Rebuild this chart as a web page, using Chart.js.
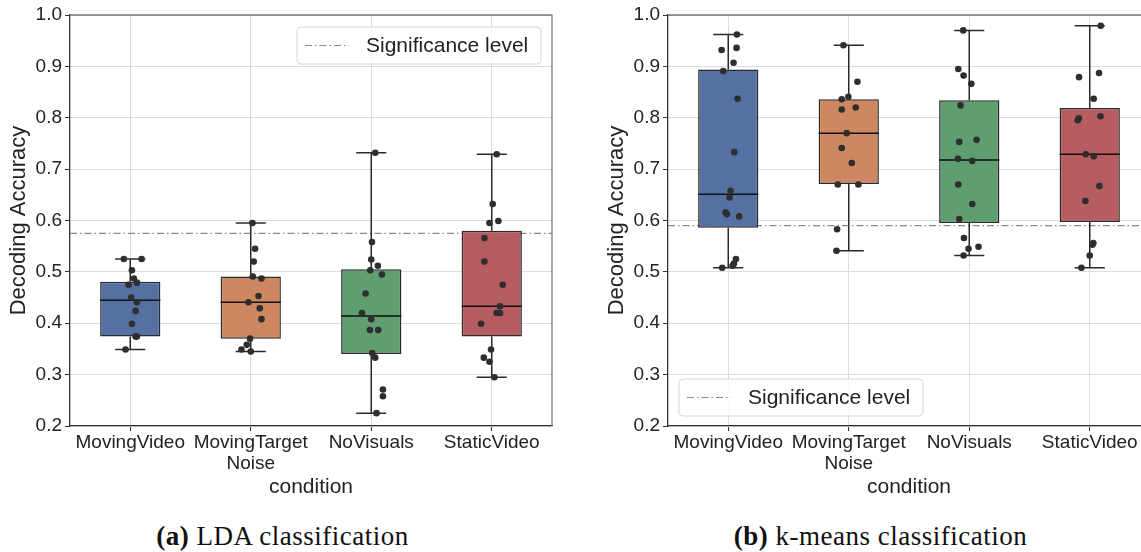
<!DOCTYPE html>
<html>
<head>
<meta charset="utf-8">
<script src="https://cdn.jsdelivr.net/npm/chart.js@4"></script>
<style>
    html, body { margin: 0; padding: 0; background: #fff; overflow: hidden; }
    body { width: 1141px; height: 552px; position: relative; }
    .panel { position: absolute; top: 0; width: 565px; height: 510px; }
    .caption {
        position: absolute; top: 521px; width: 565px; text-align: center;
        font-family: "Liberation Serif", serif; font-size: 27px; letter-spacing: 0.5px; color: #111;
    }
</style>
</head>
<body>
<div class="panel" style="left:0px"><canvas id="ldaChart"></canvas></div>
<div class="panel" style="left:598px"><canvas id="kmeansChart"></canvas></div>
<div class="caption" style="left:0px"><b>(a)</b> LDA classification</div>
<div class="caption" style="left:598px"><b>(b)</b> k-means classification</div>

<script>
const categories = ['MovingVideo', ['MovingTarget', 'Noise'], 'NoVisuals', 'StaticVideo'];
const yTicks = [0.2, 0.3, 0.4, 0.5, 0.6, 0.7, 0.8, 0.9, 1.0];
const boxColors = ['#5571a3', '#cd8862', '#5f9e6e', '#b55d60'];

// (a) LDA
const ldaQ1 = [0.374, 0.370, 0.340, 0.374];
const ldaQ3 = [0.481, 0.491, 0.505, 0.580];
const ldaMedian = [0.445, 0.441, 0.414, 0.433];
const ldaWhiskerLow = [0.349, 0.345, 0.225, 0.295];
const ldaWhiskerHigh = [0.525, 0.595, 0.732, 0.729];
const ldaSignificance = 0.575;
const ldaPoints = [
    [0.525, 0.525, 0.503, 0.487, 0.475, 0.479, 0.450, 0.441, 0.424, 0.399, 0.374, 0.374, 0.349],
    [0.595, 0.545, 0.520, 0.491, 0.487, 0.453, 0.441, 0.429, 0.408, 0.370, 0.358, 0.349, 0.345],
    [0.732, 0.558, 0.524, 0.512, 0.503, 0.495, 0.458, 0.420, 0.408, 0.387, 0.387, 0.342, 0.333, 0.271, 0.258, 0.225],
    [0.729, 0.632, 0.595, 0.599, 0.566, 0.520, 0.475, 0.433, 0.420, 0.420, 0.399, 0.349, 0.333, 0.325, 0.295]
];
const ldaJitter = [
    [-0.053, 0.094, 0.014, 0.03, -0.014, 0.055, 0.008, 0.055, 0.044, 0.014, 0.044, 0.055, -0.039],
    [0.014, 0.036, 0.025, 0.017, 0.089, 0.064, -0.019, 0.075, 0.089, -0.006, -0.033, -0.077, 0],
    [0.033, 0.006, 0, 0.055, -0.008, 0.089, -0.047, -0.077, 0, -0.011, 0.058, 0.008, 0.033, 0.097, 0.097, 0.044],
    [0.041, 0.008, -0.019, 0.055, -0.061, -0.061, 0.091, 0.069, 0.041, 0.069, -0.089, -0.006, -0.066, -0.019, 0.022]
];

// (b) k-means
const kmQ1 = [0.586, 0.671, 0.595, 0.597];
const kmQ3 = [0.894, 0.836, 0.834, 0.819];
const kmMedian = [0.651, 0.770, 0.718, 0.729];
const kmWhiskerLow = [0.508, 0.541, 0.532, 0.508];
const kmWhiskerHigh = [0.962, 0.941, 0.970, 0.979];
const kmSignificance = 0.590;
const kmPoints = [
    [0.962, 0.932, 0.936, 0.907, 0.891, 0.837, 0.733, 0.658, 0.645, 0.616, 0.612, 0.608, 0.525, 0.516, 0.512, 0.508],
    [0.941, 0.870, 0.836, 0.841, 0.816, 0.820, 0.770, 0.741, 0.712, 0.670, 0.670, 0.583, 0.541],
    [0.970, 0.895, 0.882, 0.866, 0.824, 0.753, 0.757, 0.720, 0.716, 0.670, 0.632, 0.603, 0.566, 0.545, 0.549, 0.532],
    [0.979, 0.879, 0.887, 0.837, 0.799, 0.795, 0.803, 0.729, 0.725, 0.667, 0.638, 0.556, 0.553, 0.532, 0.508]
];
const kmJitter = [
    [0.072, -0.055, 0.069, 0.044, -0.041, 0.077, 0.05, 0.019, 0.011, -0.022, -0.011, 0.091, 0.064, 0.047, 0.036, -0.05],
    [-0.044, 0.072, -0.058, -0.003, -0.058, 0.058, -0.017, -0.058, 0.025, -0.091, 0.08, -0.097, -0.102],
    [-0.05, -0.091, -0.047, 0.017, -0.072, -0.083, 0.061, -0.094, 0.025, -0.091, 0.025, -0.083, -0.044, -0.006, 0.077, -0.047],
    [0.091, -0.089, 0.077, 0.033, -0.091, -0.1, 0.089, -0.033, 0.033, 0.08, -0.036, 0.03, 0.022, 0, -0.069]
];

const FONT = '"Liberation Sans", Arial, sans-serif';

// frame (top/right spines) + legend box drawn on the chart area
const framePlugin = {
    id: 'frame',
    afterDraw(chart, args, opts) {
        const ctx = chart.ctx;
        const a = chart.chartArea;
        ctx.save();
        ctx.strokeStyle = '#7a7a7a';
        ctx.lineWidth = 1.3;
        ctx.beginPath();
        ctx.moveTo(a.left, a.top);
        ctx.lineTo(a.right, a.top);
        ctx.lineTo(a.right, a.bottom);
        ctx.stroke();

        // legend
        const w = 244, h = 37;
        const x = opts.legendAt === 'topright' ? a.right - 11 - w : a.left + 11;
        const y = opts.legendAt === 'topright' ? a.top + 12 : a.bottom - 10 - h;
        ctx.beginPath();
        ctx.roundRect(x, y, w, h, 4);
        ctx.fillStyle = 'rgba(255,255,255,0.85)';
        ctx.fill();
        ctx.strokeStyle = '#d6d6d6';
        ctx.lineWidth = 1;
        ctx.stroke();
        ctx.beginPath();
        ctx.setLineDash([7, 3, 1.5, 3]);
        ctx.strokeStyle = '#8a8a8a';
        ctx.lineWidth = 1.2;
        ctx.moveTo(x + 8, y + h / 2);
        ctx.lineTo(x + 52, y + h / 2);
        ctx.stroke();
        ctx.setLineDash([]);
        ctx.fillStyle = '#222';
        ctx.font = '21px ' + FONT;
        ctx.textBaseline = 'middle';
        ctx.fillText('Significance level', x + 69, y + h / 2 + 1);
        ctx.restore();
    }
};

function buildChart(canvasId, q1, q3, median, wLow, wHigh, sig, points, jitter, legendAt) {
    // whiskers, caps and medians as line segments separated by gaps
    const whiskers = [];
    const medians = [];
    const gap = { x: 0, y: null };
    categories.forEach((c, i) => {
        whiskers.push({ x: i, y: q1[i] }, { x: i, y: wLow[i] }, gap);
        whiskers.push({ x: i, y: q3[i] }, { x: i, y: wHigh[i] }, gap);
        whiskers.push({ x: i - 0.125, y: wLow[i] }, { x: i + 0.125, y: wLow[i] }, gap);
        whiskers.push({ x: i - 0.125, y: wHigh[i] }, { x: i + 0.125, y: wHigh[i] }, gap);
        medians.push({ x: i - 0.25, y: median[i] }, { x: i + 0.25, y: median[i] }, gap);
    });

    const scatter = [];
    points.forEach((vals, i) => {
        vals.forEach((v, k) => scatter.push({ x: i + jitter[i][k], y: v }));
    });

    const ctx = document.getElementById(canvasId).getContext('2d');
    return new Chart(ctx, {
        type: 'bar',
        data: {
            labels: categories,
            datasets: [
                {
                    type: 'scatter',
                    xAxisID: 'xj',
                    data: scatter,
                    pointRadius: 3.3,
                    pointBackgroundColor: '#2e2e2e',
                    pointBorderWidth: 0,
                    order: 0
                },
                {
                    type: 'line',
                    xAxisID: 'xj',
                    data: medians,
                    borderColor: '#111',
                    borderWidth: 1.5,
                    pointRadius: 0,
                    spanGaps: false,
                    order: 1
                },
                {
                    type: 'bar',
                    xAxisID: 'x',
                    data: categories.map((c, i) => [q1[i], q3[i]]),
                    backgroundColor: boxColors,
                    borderColor: '#2a2a2a',
                    borderWidth: 1.5,
                    borderSkipped: false,
                    grouped: false,
                    barPercentage: 0.5,
                    categoryPercentage: 1,
                    order: 2
                },
                {
                    type: 'line',
                    xAxisID: 'xj',
                    data: whiskers,
                    borderColor: '#2a2a2a',
                    borderWidth: 1.5,
                    pointRadius: 0,
                    spanGaps: false,
                    order: 3
                },
                {
                    type: 'line',
                    xAxisID: 'xj',
                    data: [{ x: -0.5, y: sig }, { x: 3.5, y: sig }],
                    borderColor: '#8a8a8a',
                    borderWidth: 1.2,
                    borderDash: [7, 3, 1.5, 3],
                    pointRadius: 0,
                    order: 4
                }
            ]
        },
        options: {
            responsive: true,
            maintainAspectRatio: false,
            animation: false,
            layout: { padding: { left: 0, right: 13, top: 15, bottom: 0 } },
            plugins: {
                legend: { display: false },
                tooltip: { enabled: false },
                frame: { legendAt: legendAt }
            },
            scales: {
                x: {
                    type: 'category',
                    offset: true,
                    grid: { offset: false, color: '#dcdcdc', tickColor: '#333', tickLength: 5 },
                    border: { color: '#333', width: 1.3 },
                    ticks: { color: '#222', padding: 1, font: { family: FONT, size: 19, lineHeight: 1.1 }, maxRotation: 0, autoSkip: false },
                    title: { display: true, text: 'condition', color: '#222', font: { family: FONT, size: 21 }, padding: { top: 0, bottom: 10 } },
                    afterFit(scale) { scale.height = 84; }
                },
                xj: {
                    type: 'linear',
                    display: false,
                    offset: false,
                    min: -0.5,
                    max: 3.5
                },
                y: {
                    min: 0.2,
                    max: 1.0,
                    afterBuildTicks(scale) { scale.ticks = yTicks.map(v => ({ value: v })); },
                    grid: { color: '#dcdcdc', tickColor: '#333', tickLength: 5 },
                    border: { color: '#333', width: 1.3 },
                    ticks: { color: '#222', padding: 3, font: { family: FONT, size: 19 }, callback: v => v.toFixed(1) },
                    title: { display: true, text: 'Decoding Accuracy', color: '#222', font: { family: FONT, size: 22 }, padding: { top: 6, bottom: 0 } },
                    afterFit(scale) { scale.width = 70; }
                }
            }
        },
        plugins: [framePlugin]
    });
}

document.addEventListener('DOMContentLoaded', function() {
    buildChart('ldaChart', ldaQ1, ldaQ3, ldaMedian, ldaWhiskerLow, ldaWhiskerHigh, ldaSignificance, ldaPoints, ldaJitter, 'topright');
    buildChart('kmeansChart', kmQ1, kmQ3, kmMedian, kmWhiskerLow, kmWhiskerHigh, kmSignificance, kmPoints, kmJitter, 'bottomleft');
});
</script>
</body>
</html>
